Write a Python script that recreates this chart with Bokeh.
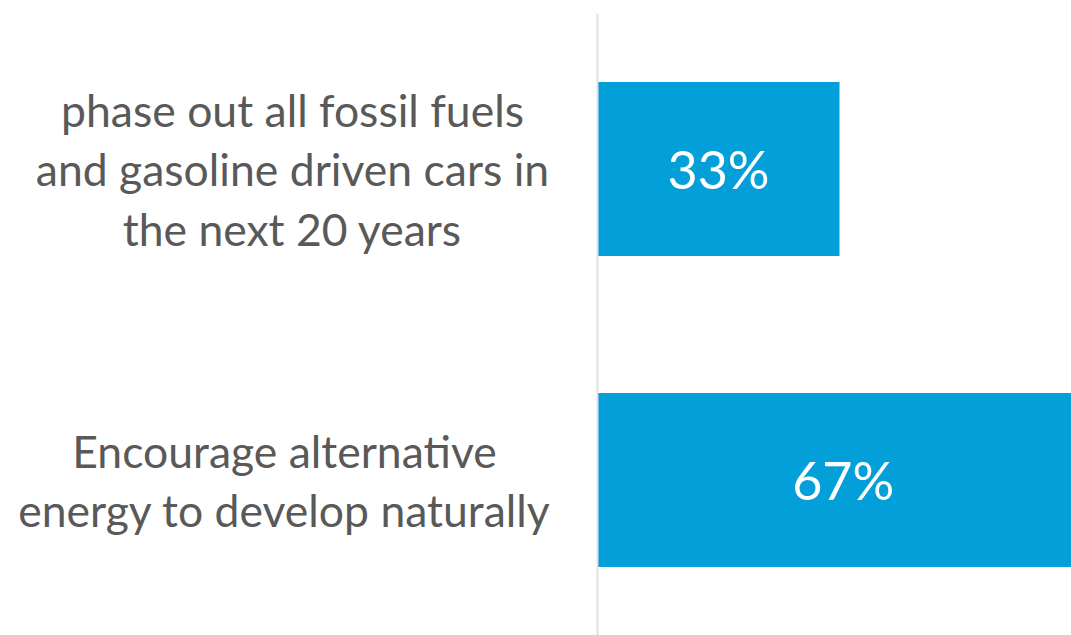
from bokeh.plotting import figure
from bokeh.models import FactorRange, Range1d, Span, ColumnDataSource
from bokeh.core.properties import value
from bokeh.embed import file_html
from bokeh.resources import INLINE

categories = ["Encourage alternative\nenergy to develop naturally",
              "phase out all fossil fuels\nand gasoline driven cars in\nthe next 20 years"]
values = [67, 33]
value_labels = ["67%", "33%"]

BAR_COLOR = "#029fd9"
TEXT_COLOR = "#595959"
FONT = "Lato"

# layout: pixel geometry of the frame
W, H = 1071, 635
ZERO_PX = 597
TOP_PX = 13
px_per_unit = 242 / 33.0
x_start = -ZERO_PX / px_per_unit
x_end = (W - ZERO_PX) / px_per_unit
label_center_px = [284, 292]
label_xs = [(c - ZERO_PX) / px_per_unit for c in label_center_px]

p = figure(width=W - ZERO_PX + ZERO_PX, height=H, output_backend="svg", toolbar_location=None,
           y_range=FactorRange(factors=categories, range_padding=0),
           x_range=Range1d(x_start, x_end),
           min_border_left=0, min_border_right=0, min_border_top=TOP_PX, min_border_bottom=0)
p.outline_line_color = None
p.xaxis.visible = False
p.yaxis.visible = False
p.grid.visible = False
p.background_fill_color = "white"
p.border_fill_color = "white"

src = ColumnDataSource(dict(cat=categories, val=values, mid=[v / 2 for v in values],
                            lab=value_labels, lx=label_xs))

p.hbar(y="cat", right="val", left=0, height=0.56, source=src,
       fill_color=BAR_COLOR, line_color=None)

p.add_layout(Span(location=0, dimension="height", line_color="#e0e0e0", line_width=2))

p.text(x="mid", y="cat", text="lab", source=src, text_color="white",
       text_font=value(FONT), text_font_size="52px", text_align="center",
       text_baseline="middle")

p.text(x="lx", y="cat", text="cat", source=src, text_color=TEXT_COLOR,
       text_font=value(FONT), text_font_size="44.5px", text_align="center",
       text_baseline="middle", text_line_height=1.12)

open("out.html", "w").write(file_html(p, INLINE))
